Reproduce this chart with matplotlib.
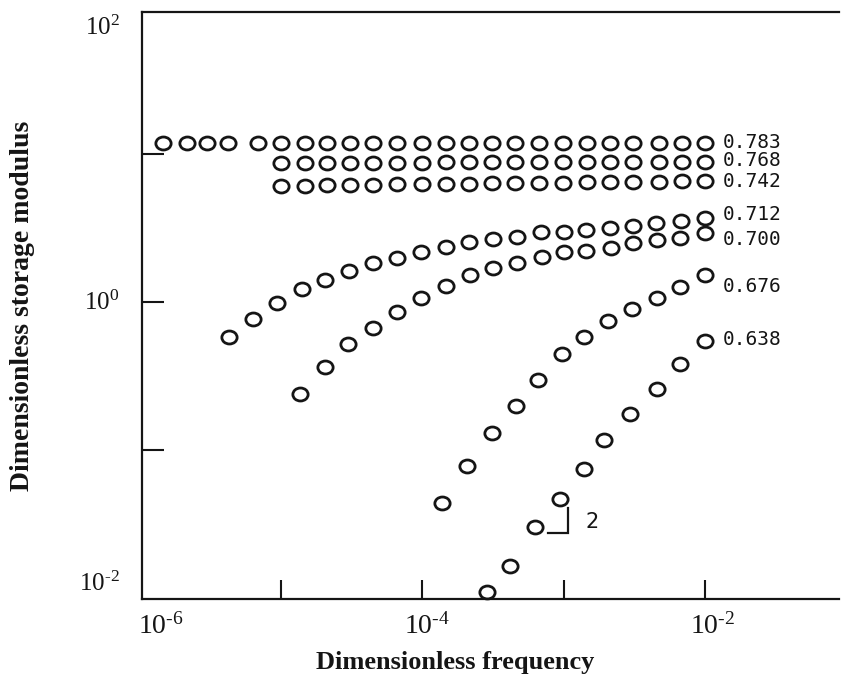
"""
Dimensionless storage modulus vs dimensionless frequency (log-log),
series labelled by volume fraction.
"""
import matplotlib
matplotlib.use('Agg')
import matplotlib.pyplot as plt
from matplotlib.path import Path
from matplotlib.ticker import NullFormatter

# ============ data ============
freq_flat_long = [1.46e-6, 2.16e-6, 2.99e-6, 4.22e-6, 6.87e-6,
                  1.0e-5, 1.47e-5, 2.1e-5, 3.05e-5, 4.5e-5, 6.6e-5,
                  1.0e-4, 1.46e-4, 2.14e-4, 3.1e-4, 4.55e-4, 6.7e-4,
                  9.9e-4, 1.45e-3, 2.13e-3, 3.1e-3, 4.7e-3, 6.9e-3, 1.0e-2]
freq_flat_short = [1.0e-5, 1.47e-5, 2.1e-5, 3.05e-5, 4.5e-5, 6.6e-5,
                   1.0e-4, 1.46e-4, 2.14e-4, 3.1e-4, 4.55e-4, 6.7e-4,
                   9.9e-4, 1.45e-3, 2.13e-3, 3.1e-3, 4.7e-3, 6.9e-3, 1.0e-2]

g_783 = [11.8] * 24
g_768 = [8.7, 8.7, 8.7, 8.72, 8.72, 8.74, 8.74, 8.76, 8.76, 8.78,
         8.78, 8.8, 8.8, 8.82, 8.82, 8.84, 8.85, 8.86, 8.87]
g_742 = [6.1, 6.12, 6.15, 6.17, 6.2, 6.22, 6.25, 6.27, 6.3, 6.32,
         6.35, 6.37, 6.4, 6.42, 6.45, 6.47, 6.5, 6.52, 6.55]

freq_712 = [4.31e-6, 6.31e-6, 9.41e-6, 1.40e-5, 2.05e-5, 3.03e-5, 4.50e-5,
            6.59e-5, 9.75e-5, 1.47e-4, 2.15e-4, 3.18e-4, 4.66e-4, 6.92e-4,
            1.01e-3, 1.44e-3, 2.13e-3, 3.11e-3, 4.51e-3, 6.75e-3, 9.9e-3]
g_712 = [0.583, 0.768, 0.98, 1.22, 1.41, 1.62, 1.83, 1.99, 2.19, 2.35, 2.55,
         2.67, 2.76, 2.96, 2.99, 3.07, 3.15, 3.28, 3.44, 3.51, 3.69]

freq_700 = [1.35e-5, 2.05e-5, 2.96e-5, 4.50e-5, 6.59e-5, 9.80e-5, 1.47e-4,
            2.18e-4, 3.18e-4, 4.66e-4, 7.0e-4, 1.01e-3, 1.43e-3, 2.15e-3,
            3.11e-3, 4.56e-3, 6.67e-3, 9.9e-3]
g_700 = [0.239, 0.362, 0.52, 0.667, 0.86, 1.06, 1.28, 1.52, 1.69, 1.84,
         2.02, 2.19, 2.22, 2.31, 2.52, 2.62, 2.69, 2.91]

freq_676 = [1.37e-4, 2.06e-4, 3.10e-4, 4.58e-4, 6.62e-4, 9.7e-4, 1.38e-3,
            2.04e-3, 3.06e-3, 4.6e-3, 6.67e-3, 9.9e-3]
g_676 = [0.0436, 0.0783, 0.130, 0.199, 0.297, 0.443, 0.583, 0.744, 0.893,
         1.07, 1.27, 1.52]

freq_638 = [2.86e-4, 4.18e-4, 6.28e-4, 9.44e-4, 1.38e-3, 1.94e-3, 2.95e-3,
            4.6e-3, 6.67e-3, 9.9e-3]
g_638 = [0.0110, 0.0165, 0.0300, 0.0467, 0.0745, 0.117, 0.175, 0.258,
         0.381, 0.548]

series_labels = ['0.783', '0.768', '0.742', '0.712', '0.700', '0.676', '0.638']
series_x = [freq_flat_long, freq_flat_short, freq_flat_short,
            freq_712, freq_700, freq_676, freq_638]
series_y = [g_783, g_768, g_742, g_712, g_700, g_676, g_638]

x_tick_labels = [r'$\mathregular{10^{\text{-}6}}$', r'$\mathregular{10^{\text{-}4}}$',
                 r'$\mathregular{10^{\text{-}2}}$']
y_tick_labels = [r'$\mathregular{10^{\text{-}2}}$', r'$\mathregular{10^{0}}$',
                 r'$\mathregular{10^{2}}$']

# ============ style ============
plt.rcParams['font.family'] = ['Liberation Serif', 'DejaVu Serif']
plt.rcParams['mathtext.fontset'] = 'custom'
plt.rcParams['mathtext.rm'] = 'Liberation Serif'

INK = '#151515'
# label offsets from the last point of each series (points)
label_dy = [0.4, 1.2, 0.0, 2.2, -4.1, -7.9, 0.5]

# slightly flattened open circles, like the scanned figure
circ = Path.unit_circle()
ring = Path(circ.vertices * [1.0, 0.85], circ.codes)

fig = plt.figure(figsize=(8.42, 6.91), dpi=100)
ax = fig.add_axes([0.1683, 0.1331, 0.8285, 0.8495])
ax.set_xscale('log')
ax.set_yscale('log')
ax.set_xlim(10 ** -5.986, 10 ** -1.051)
ax.set_ylim(10 ** -2.007, 10 ** 1.959)

for xs, ys, lab, dy in zip(series_x, series_y, series_labels, label_dy):
    ax.plot(xs, ys, ls='none', marker=ring, ms=11, mfc='none', mec=INK,
            mew=2.0, clip_on=False)
    ax.annotate(lab, xy=(xs[-1], ys[-1]), xytext=(13, dy),
                textcoords='offset points', ha='left', va='center',
                fontsize=14, family='DejaVu Sans Mono', color=INK)

# slope-2 triangle
ax.plot([0.582, 0.611, 0.611], [0.113, 0.113, 0.155], transform=ax.transAxes,
        color=INK, lw=1.6, solid_joinstyle='miter')
ax.text(0.636, 0.132, '2', transform=ax.transAxes, ha='left', va='center',
        fontsize=15, family='DejaVu Sans', color=INK)

# ============ axes ============
ax.spines['right'].set_visible(False)
for s in ['left', 'bottom', 'top']:
    ax.spines[s].set_linewidth(1.6)
    ax.spines[s].set_color(INK)

# inward decade marks (minor), offset labels (major, no mark)
ax.set_xticks([1e-5, 1e-4, 1e-3, 1e-2], minor=True)
ax.set_yticks([1e-1, 1e0, 1e1], minor=True)
ax.xaxis.set_minor_formatter(NullFormatter())
ax.yaxis.set_minor_formatter(NullFormatter())
ax.set_xticks([10 ** -5.85, 10 ** -3.965, 10 ** -1.95], labels=x_tick_labels)
ax.set_yticks([10 ** -1.885, 10 ** 0.01, 10 ** 1.872], labels=y_tick_labels)

ax.tick_params(axis='x', which='minor', direction='in', length=14, width=1.5,
               color=INK)
ax.tick_params(axis='y', which='minor', direction='in', length=16, width=1.5,
               color=INK)
ax.tick_params(axis='x', which='major', length=0, pad=10, labelsize=20,
               labelcolor=INK)
ax.tick_params(axis='y', which='major', length=0, pad=16, labelsize=18,
               labelcolor=INK)

ax.set_xlabel('Dimensionless frequency', fontsize=19, fontweight='bold',
              color=INK)
ax.set_ylabel('Dimensionless storage modulus', fontsize=20, fontweight='bold',
              color=INK)
ax.xaxis.set_label_coords(0.449, -0.088)
ax.yaxis.set_label_coords(-0.153, 0.50)

plt.savefig('out.png', dpi=100)
plt.close()
